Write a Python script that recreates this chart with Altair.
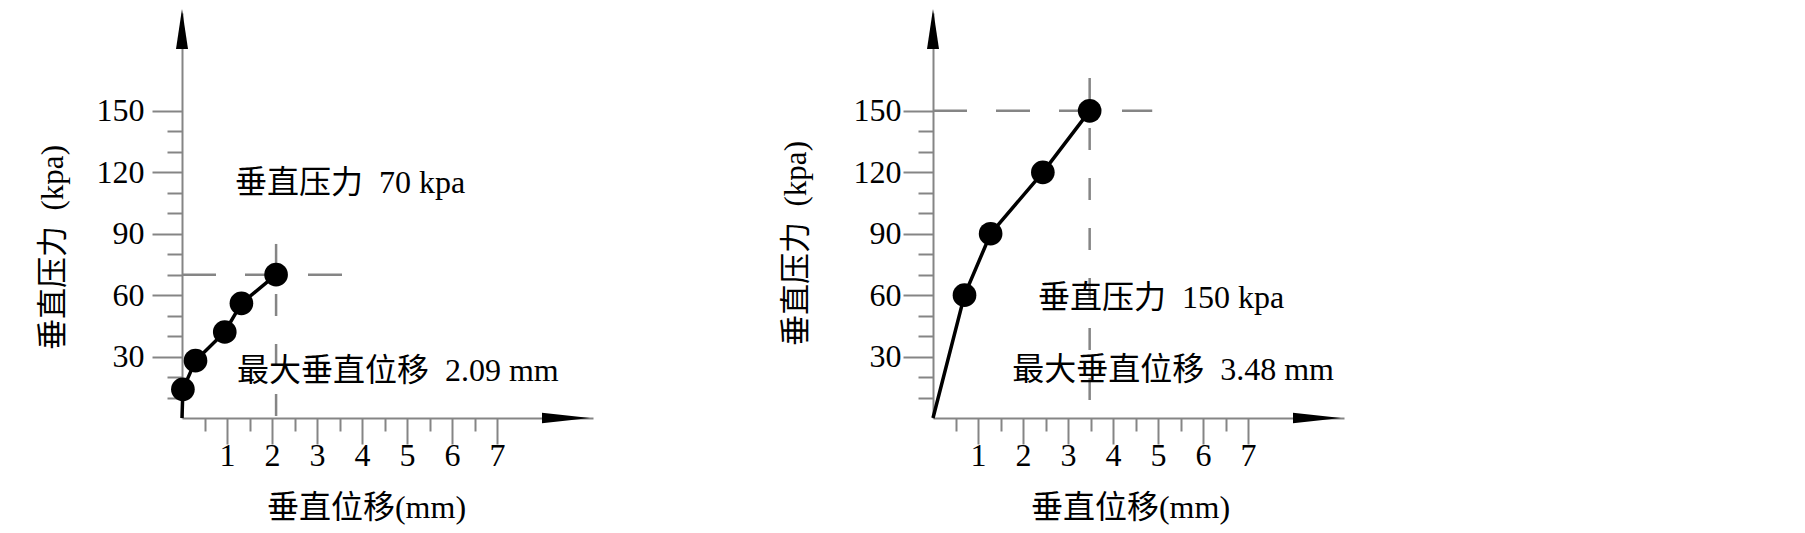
import altair as alt
import pandas as pd

# ---- data ----
left_disp = [0, 0.02, 0.30, 0.95, 1.32, 2.09]      # mm
left_pres = [0, 14, 28, 42, 56, 70]                 # kPa
right_disp = [0, 0.70, 1.28, 2.44, 3.48]
right_pres = [0, 60, 90, 120, 150]

y_tick_values = [10, 20, 30, 40, 50, 60, 70, 80, 90, 100, 110, 120, 130, 140, 150]
x_tick_values = [0.5, 1, 1.5, 2, 2.5, 3, 3.5, 4, 4.5, 5, 5.5, 6, 6.5, 7]

# guide (dashed) lines: x, x2, y, y2, direction
guide_kind = ["h", "v"]
left_guides_x = [0, 2.09]
left_guides_x2 = [3.64, 2.09]
left_guides_y = [70, 85]
left_guides_y2 = [70, 0]
right_guides_x = [0, 3.48]
right_guides_x2 = [4.87, 3.48]
right_guides_y = [150, 166]
right_guides_y2 = [150, 0]

# annotations
left_notes = ["垂直压力\u00a0\u00a070 kpa", "最大垂直位移\u00a0\u00a02.09 mm"]
left_notes_x = [1.18, 1.22]
left_notes_y = [115, 23]
right_notes = ["垂直压力\u00a0\u00a0150 kpa", "最大垂直位移\u00a0\u00a03.48 mm"]
right_notes_x = [2.33, 1.76]
right_notes_y = [58.7, 23.5]

# axis arrow heads (data positions at the axis ends)
x_arrow_pos = 8.53
y_arrow_pos = 190

X_MAX = 9.13
Y_MAX = 197.8
W = 411
H = 405

SERIF = "Liberation Serif, Noto Sans CJK SC"
GRAY = "#858585"


def panel(xs, ys, gx, gx2, gy, gy2, notes, nx, ny, ytitle_x, ytitle_y, xtitle_x,
          ylabel_pad, hdash, vdash):
    line_df = pd.DataFrame({"d": xs, "p": ys})
    pts_df = line_df.iloc[1:]
    guide_df = pd.DataFrame({"x": gx, "x2": gx2, "y": gy, "y2": gy2, "k": guide_kind})
    note_df = pd.DataFrame({"t": notes, "x": nx, "y": ny})
    arrow_x_df = pd.DataFrame({"x": [x_arrow_pos], "y": [0]})
    arrow_y_df = pd.DataFrame({"x": [0], "y": [y_arrow_pos]})

    xscale = alt.Scale(domain=[0, X_MAX], nice=False, zero=True)
    yscale = alt.Scale(domain=[0, Y_MAX], nice=False, zero=True)

    xaxis = alt.Axis(
        values=x_tick_values,
        tickSize={"condition": {"test": "datum.value % 1 === 0", "value": 26}, "value": 13},
        labelExpr="datum.value % 1 === 0 ? '' + datum.value : ''",
        labelPadding=-4,
        title="垂直位移(mm)",
        titleX=xtitle_x,
        titleY=89,
        titleBaseline="middle",
        titleFontSize=32,
    )
    yaxis = alt.Axis(
        values=y_tick_values,
        tickSize={"condition": {"test": "datum.value % 30 === 0", "value": 30}, "value": 15},
        labelExpr="datum.value % 30 === 0 ? datum.label : ''",
        labelPadding=ylabel_pad,
        title="垂直压力\u00a0\u00a0(kpa)",
        titleX=ytitle_x,
        titleY=ytitle_y,
        titleBaseline="middle",
        titleAlign="center",
        titleFontSize=31,
    )

    base_x = alt.X("d:Q", scale=xscale, axis=xaxis)
    base_y = alt.Y("p:Q", scale=yscale, axis=yaxis)

    guides = alt.Chart(guide_df).mark_rule(color=GRAY, strokeWidth=2.5).encode(
        x=alt.X("x:Q", scale=xscale, axis=xaxis),
        x2="x2:Q",
        y=alt.Y("y:Q", scale=yscale, axis=yaxis),
        y2="y2:Q",
        strokeDash=alt.StrokeDash(
            "k:N",
            scale=alt.Scale(domain=["h", "v"], range=[hdash, vdash]),
            legend=None,
        ),
    )
    line = alt.Chart(line_df).mark_line(color="black", strokeWidth=3.5).encode(
        x=base_x, y=base_y
    )
    points = alt.Chart(pts_df).mark_point(
        filled=True, color="black", size=560, opacity=1, shape="circle"
    ).encode(x=base_x, y=base_y)
    text = alt.Chart(note_df).mark_text(
        align="left", baseline="middle", font=SERIF, fontSize=32, color="black"
    ).encode(
        x=alt.X("x:Q", scale=xscale, axis=xaxis),
        y=alt.Y("y:Q", scale=yscale, axis=yaxis),
        text="t:N",
    )
    arrow_x = alt.Chart(arrow_x_df).mark_point(
        filled=True, color="black", opacity=1, size=2304,
        shape="M 1 0 L -1 -0.22 L -1 0.22 Z",
    ).encode(
        x=alt.X("x:Q", scale=xscale, axis=xaxis),
        y=alt.Y("y:Q", scale=yscale, axis=yaxis),
    )
    arrow_y = alt.Chart(arrow_y_df).mark_point(
        filled=True, color="black", opacity=1, size=1600,
        shape="M 0 -1 L -0.3 1 L 0.3 1 Z",
    ).encode(
        x=alt.X("x:Q", scale=xscale, axis=xaxis),
        y=alt.Y("y:Q", scale=yscale, axis=yaxis),
    )
    return alt.layer(guides, line, points, text, arrow_x, arrow_y).properties(
        width=W, height=H
    )


left = panel(left_disp, left_pres, left_guides_x, left_guides_x2, left_guides_y,
             left_guides_y2, left_notes, left_notes_x, left_notes_y, -129, 234, 184, 8,
             [34, 29], [22, 28])
right = panel(right_disp, right_pres, right_guides_x, right_guides_x2, right_guides_y,
              right_guides_y2, right_notes, right_notes_x, right_notes_y, -137, 230, 197, 2,
              [32, 30], [24, 27])

chart = alt.hconcat(left, right, spacing=340, bounds="flush").properties(
    padding={"left": 29, "top": 0, "right": 5, "bottom": 5}
).configure_view(stroke=None).configure_axis(
    grid=False,
    domainColor=GRAY,
    domainWidth=2,
    tickColor=GRAY,
    tickWidth=2,
    labelFont=SERIF,
    labelFontSize=32,
    labelColor="black",
    titleFont=SERIF,
    titleColor="black",
    titleFontWeight="normal",
)

chart.save("out.html", embed_options={"renderer": "svg", "actions": False})
